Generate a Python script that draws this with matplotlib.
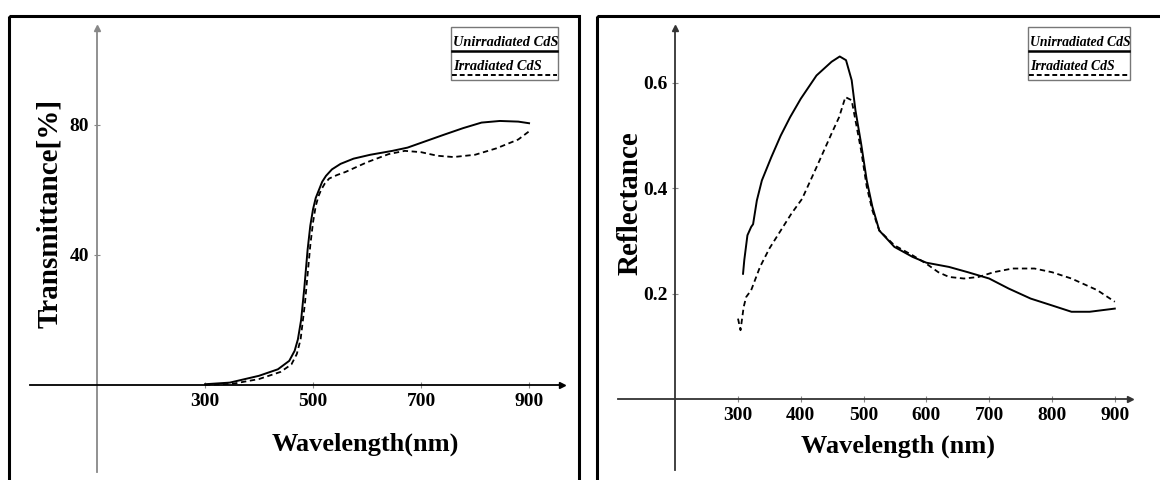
import matplotlib.pyplot as plt
from matplotlib.patches import Rectangle

# transmittance (%) vs wavelength (nm)
wl_t_un = [300, 346, 400, 435, 456, 466, 472, 478, 484, 490, 495, 500, 505, 511, 517, 524, 535, 551, 575, 606, 647,
           675, 709, 743, 778, 812, 846, 880, 900]
tr_un = [0.2, 0.7, 2.8, 4.8, 7.4, 10.5, 14, 20, 30, 41.6, 49, 54, 57.5, 60, 62.5, 64.3, 66.3, 68, 69.6, 70.8, 72,
         73, 75, 77, 79, 80.7, 81.2, 81, 80.5]
wl_t_ir = [300, 350, 400, 440, 460, 470, 477, 485, 490, 495, 500, 505, 510, 515, 522, 530, 545, 560, 580, 600, 640,
           670, 700, 730, 760, 800, 840, 880, 900]
tr_ir = [0, 0.3, 1.8, 4, 6.3, 9.5, 14, 25, 34, 43, 50, 55, 58, 60, 62, 63.5, 64.6, 65.5, 67, 68.5, 71, 72, 71.6,
         70.5, 70.1, 70.8, 72.8, 75.5, 78]

# reflectance vs wavelength (nm)
wl_r_un = [308, 310, 315, 321, 324, 330, 338, 353, 368, 383, 400, 425, 449, 462, 472, 481, 487, 496, 505, 514, 525,
           549, 578, 600, 636, 666, 700, 731, 766, 800, 831, 860, 900]
rf_un = [0.238, 0.264, 0.311, 0.327, 0.332, 0.377, 0.415, 0.459, 0.50, 0.535, 0.570, 0.614, 0.640, 0.650, 0.643,
         0.605, 0.548, 0.485, 0.415, 0.365, 0.320, 0.289, 0.270, 0.259, 0.251, 0.241, 0.229, 0.210, 0.191, 0.178,
         0.166, 0.166, 0.172]
wl_r_ir = [300, 304, 309, 313, 321, 335, 350, 368, 385, 402, 425, 449, 461, 471, 481, 487, 496, 505, 514, 525, 549,
           578, 600, 619, 636, 660, 683, 707, 737, 772, 800, 831, 872, 900]
rf_ir = [0.153, 0.131, 0.175, 0.194, 0.207, 0.251, 0.286, 0.320, 0.352, 0.380, 0.44, 0.504, 0.535, 0.573, 0.567,
         0.529, 0.472, 0.403, 0.358, 0.320, 0.292, 0.273, 0.257, 0.241, 0.232, 0.229, 0.232, 0.241, 0.248, 0.248,
         0.241, 0.229, 0.207, 0.185]

labels = ['Unirradiated CdS', 'Irradiated CdS']

W, H = 1160, 480
fig = plt.figure(figsize=(W / 100, H / 100), dpi=100)
serif = 'Liberation Serif'


def box(x, y, w, h):
    # pixel box (top-left origin) -> figure fraction
    return [x / W, (H - y - h) / H, w / W, h / H]


def setup(ax, xlim, ylim, ycross, xticks, yticks, ylabels, ycol, xcol):
    ax.set_xlim(*xlim)
    ax.set_ylim(*ylim)
    for s in ['top', 'right']:
        ax.spines[s].set_visible(False)
    ax.spines['left'].set_position(('data', ycross))
    ax.spines['bottom'].set_position(('data', 0))
    ax.spines['left'].set_color(ycol)
    ax.spines['bottom'].set_color(xcol)
    ax.spines['left'].set_linewidth(1.3)
    ax.spines['bottom'].set_linewidth(1.3)
    ax.set_xticks(xticks)
    ax.set_yticks(yticks)
    ax.set_xticklabels([str(v) for v in xticks])
    ax.set_yticklabels(ylabels)
    ax.tick_params(direction='inout', length=5, width=0.8, color='#888888', pad=3,
                   labelsize=14)
    for t in ax.get_xticklabels() + ax.get_yticklabels():
        t.set_fontfamily(serif)
        t.set_fontweight('bold')
    ax.plot(xlim[1], 0, marker='>', color=xcol, ms=5, clip_on=False)
    ax.plot(ycross, ylim[1], marker='^', color=ycol, ms=5, clip_on=False)
    ax.patch.set_alpha(0)


# left panel
ax1 = fig.add_axes(box(30, 28, 532, 444))
ax1.plot(wl_t_un, tr_un, color='black', lw=1.4)
ax1.plot(wl_t_ir, tr_ir, color='black', lw=1.3, ls=(0, (3, 2)))
setup(ax1, (-24, 961), (-26.8, 109.8), 100, [300, 500, 700, 900], [40, 80], ['40', '80'],
      '#888888', 'black')
fig.text(365 / W, 1 - 444 / H, 'Wavelength(nm)', fontfamily=serif, fontweight='bold',
         fontsize=19, ha='center', va='center')
fig.text(50 / W, 1 - 213 / H, 'Transmittance[%]', fontfamily=serif, fontweight='bold',
         fontsize=21, ha='center', va='center', rotation=90)

# right panel
ax2 = fig.add_axes(box(618, 28, 512, 442))
ax2.plot(wl_r_un, rf_un, color='black', lw=1.4)
ax2.plot(wl_r_ir, rf_ir, color='black', lw=1.3, ls=(0, (3, 2)))
setup(ax2, (108.9, 924.2), (-0.134, 0.704), 200, [300, 400, 500, 600, 700, 800, 900],
      [0.2, 0.4, 0.6], ['0.2', '0.4', '0.6'], '#333333', '#333333')
fig.text(898 / W, 1 - 446 / H, 'Wavelength (nm)', fontfamily=serif, fontweight='bold',
         fontsize=19, ha='center', va='center')
fig.text(630 / W, 1 - 203 / H, 'Reflectance', fontfamily=serif, fontweight='bold',
         fontsize=21, ha='center', va='center', rotation=90)

# overlay in pixel coordinates for frames and legends
ov = fig.add_axes([0, 0, 1, 1])
ov.set_xlim(0, W)
ov.set_ylim(H, 0)
ov.axis('off')
ov.patch.set_alpha(0)
ov.add_patch(Rectangle((9, 16), 570, 480, fill=False, ec='black', lw=2.2))
ov.add_patch(Rectangle((597, 16), 600, 480, fill=False, ec='black', lw=2.2))

for x0, x1 in [(451, 558), (1028, 1130)]:
    ov.add_patch(Rectangle((x0, 27), x1 - x0, 53, fill=False, ec='#777777', lw=1.0))
    fs = 10.4 if x1 - x0 > 104 else 9.9
    ov.text(x0 + 2, 46, labels[0], fontfamily=serif, fontweight='bold', fontstyle='italic',
            fontsize=fs, ha='left', va='baseline')
    ov.plot([x0 + 1, x1 - 1], [51, 51], color='black', lw=1.8)
    ov.text(x0 + 2, 70, labels[1], fontfamily=serif, fontweight='bold', fontstyle='italic',
            fontsize=fs, ha='left', va='baseline')
    ov.plot([x0 + 1, x1 - 1], [75, 75], color='black', lw=1.4, ls=(0, (2.5, 1.5)))

fig.savefig('out.png', dpi=100)
